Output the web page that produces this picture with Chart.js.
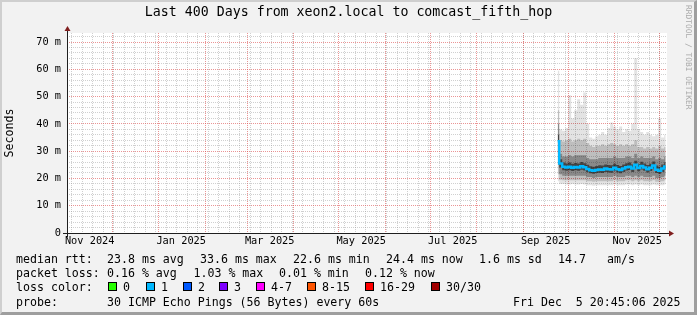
<!DOCTYPE html>
<html>
<head>
<meta charset="utf-8">
<title>Last 400 Days from xeon2.local to comcast_fifth_hop</title>
<script src="https://cdn.jsdelivr.net/npm/chart.js@4.4.1/dist/chart.umd.min.js"></script>
<style>
  html, body { margin: 0; padding: 0; background: #f2f2f2; }
  #wrap { position: relative; width: 697px; height: 315px; overflow: hidden; background: #f2f2f2; }
  #shade { position: absolute; left: 0; top: 0; width: 697px; height: 315px; box-sizing: border-box;
           border-top: 2px solid #cfcfcf; border-left: 2px solid #cfcfcf;
           border-right: 3px solid #9e9e9e; border-bottom: 3px solid #9e9e9e; }
  #chart { position: absolute; left: 0; top: 0; }
  .lg { position: absolute; font-family: 'DejaVu Sans Mono', monospace; font-size: 11.6px;
        line-height: 14px; white-space: pre; color: #000; }
  .box { position: absolute; width: 9px; height: 9px; box-sizing: border-box; border: 1px solid #000; }
  #mark { position: absolute; left: 683px; top: 5px; width: 10px; font-family: 'DejaVu Sans Mono', monospace;
          font-size: 7.9px; line-height: 10px; color: #aaaaaa; writing-mode: vertical-rl; white-space: pre; }
</style>
</head>
<body>
<div id="wrap">
  <div id="shade"></div>
  <canvas id="chart" width="697" height="315"></canvas>
  <div id="mark">RRDTOOL / TOBI OETIKER</div>
  <div id="legend"></div>
</div>
<script>
// ventana del grafico: 400 dias hasta Fri Dec 5 20:45:06 2025
const START = Date.UTC(2024, 9, 31, 20, 45, 6);
const END = START + 400 * 86400000;
const DAY = 86400000;

// muestras cada 2 dias, en ms
const sampleDates = [
  '2025-09-24', '2025-09-26', '2025-09-28', '2025-09-30',
  '2025-10-02', '2025-10-04', '2025-10-06', '2025-10-08', '2025-10-10', '2025-10-12', '2025-10-14', '2025-10-16',
  '2025-10-18', '2025-10-20', '2025-10-22', '2025-10-24', '2025-10-26', '2025-10-28', '2025-10-30',
  '2025-11-01', '2025-11-03', '2025-11-05', '2025-11-07', '2025-11-09', '2025-11-11', '2025-11-13', '2025-11-15',
  '2025-11-17', '2025-11-19', '2025-11-21', '2025-11-23', '2025-11-25', '2025-11-27', '2025-11-29',
  '2025-12-01', '2025-12-03', '2025-12-05'
];
const rttMedian = [33.6, 25.5, 24.3, 24.0, 24.3, 23.9, 24.2, 24.0, 24.5, 24.1, 23.5, 23.0, 22.8, 23.1, 23.3, 23.2,
  23.6, 23.4, 23.3, 23.9, 23.4, 23.1, 23.6, 24.1, 24.3, 23.6, 25.0, 23.8, 24.6, 24.0, 23.4, 23.9, 24.7, 23.2,
  22.8, 23.6, 24.4];
const rttMax = [59.5, 38.0, 37.5, 38.5, 50.5, 42.0, 45.0, 49.0, 47.0, 51.5, 40.0, 35.0, 34.5, 35.5, 36.0, 37.0,
  36.0, 38.5, 40.5, 39.0, 38.0, 39.0, 37.0, 38.0, 37.5, 40.0, 64.0, 38.0, 37.0, 36.0, 37.0, 36.0, 35.5, 36.0,
  42.0, 35.0, 36.0];
const rttP90 = [45.0, 34.0, 33.5, 34.0, 34.5, 33.5, 34.0, 34.5, 34.0, 34.5, 33.0, 32.0, 31.5, 32.0, 32.0, 32.5,
  32.0, 32.5, 33.0, 32.5, 32.0, 32.5, 32.0, 32.5, 32.0, 32.5, 34.0, 31.5, 31.5, 31.0, 31.5, 31.0, 31.5, 31.0,
  32.0, 31.0, 31.5];
const rttP75 = [40.0, 29.0, 28.0, 28.0, 28.5, 28.0, 28.5, 28.5, 28.5, 28.5, 27.5, 27.0, 27.0, 27.0, 27.5, 27.5,
  27.5, 27.5, 27.5, 28.0, 27.5, 27.5, 27.5, 28.0, 28.0, 27.5, 29.0, 27.5, 28.0, 27.5, 27.5, 27.5, 28.0, 27.0,
  27.5, 27.0, 28.0];
const rttP60 = [36.0, 27.0, 25.8, 25.5, 25.8, 25.4, 25.7, 25.5, 26.0, 25.6, 25.0, 24.5, 24.3, 24.6, 24.8, 24.7,
  25.1, 24.9, 24.8, 25.4, 24.9, 24.6, 25.1, 25.6, 25.8, 25.1, 26.5, 25.3, 26.1, 25.5, 24.9, 25.4, 26.2, 24.7,
  24.3, 25.1, 25.9];
const rttP40 = [29.0, 24.0, 23.0, 22.8, 23.0, 22.7, 23.0, 22.8, 23.2, 22.9, 22.3, 21.9, 21.7, 22.0, 22.1, 22.0,
  22.4, 22.2, 22.1, 22.7, 22.2, 21.9, 22.4, 22.9, 23.1, 22.4, 23.6, 22.6, 23.3, 22.8, 22.2, 22.7, 23.4, 22.0,
  21.7, 22.4, 23.2];
const rttP25 = [25.0, 21.5, 21.0, 21.0, 21.0, 21.0, 21.0, 21.0, 21.0, 21.0, 20.5, 20.5, 20.2, 20.5, 20.5, 20.5,
  20.5, 20.5, 20.5, 21.0, 20.5, 20.5, 20.5, 21.0, 21.0, 20.5, 21.0, 20.5, 21.0, 20.5, 20.5, 20.5, 21.0, 20.2,
  20.2, 20.5, 21.0];
const rttP10 = [21.5, 19.5, 19.3, 19.3, 19.3, 19.3, 19.3, 19.3, 19.3, 19.3, 19.0, 19.0, 18.8, 19.0, 19.0, 19.0,
  19.0, 19.0, 19.0, 19.3, 19.0, 19.0, 19.0, 19.3, 19.3, 19.0, 19.3, 19.0, 19.3, 19.0, 19.0, 19.0, 19.3, 18.8,
  18.8, 19.0, 19.3];
const rttMin = [19.0, 18.0, 18.0, 17.8, 17.8, 18.0, 17.8, 17.8, 18.0, 17.8, 17.5, 17.5, 17.3, 17.5, 17.5, 17.5,
  17.5, 17.5, 17.5, 17.8, 17.5, 17.5, 17.5, 17.8, 17.8, 17.5, 17.8, 17.5, 17.8, 17.5, 17.5, 17.5, 17.8, 17.5,
  17.5, 17.5, 17.8];

// etiquetas del eje x (meses impares) y eje y
const monthLabels = ['Nov 2024', 'Jan 2025', 'Mar 2025', 'May 2025', 'Jul 2025', 'Sep 2025', 'Nov 2025'];
const monthLabelStarts = ['2024-11-01', '2025-01-01', '2025-03-01', '2025-05-01', '2025-07-01', '2025-09-01', '2025-11-01'];
const yMax = 73.3;

// leyenda de perdida
const lossLabels = ['0', '1', '2', '3', '4-7', '8-15', '16-29', '30/30'];
const lossColors = ['#26ff00', '#00b8ff', '#0059ff', '#7e00ff', '#ff00ff', '#ff5500', '#ff0000', '#a10000'];

const GRID = 'rgba(143,143,143,0.42)';
const MGRID = 'rgba(222,79,79,0.6)';
const AXIS = '#1f1f1f';
const ARROW = '#801f1f';
const MONO = "'DejaVu Sans Mono', monospace";

function dayOf(iso) {
    const [y, m, d] = iso.split('-').map(Number);
    return (Date.UTC(y, m - 1, d) - START) / DAY;
}

const xs = sampleDates.map(dayOf);
const pts = arr => arr.map((v, i) => ({ x: xs[i], y: v }));

//ticks del eje x: semanas (lunes), meses y etiquetas a mitad de mes
function buildXTicks() {
    const ticks = [];
    for (let t = Date.UTC(2024, 10, 4); t < END; t += 7 * DAY) {
        ticks.push({ value: (t - START) / DAY, kind: 'week' });
    }
    for (let i = 0; i < 14; i++) {
        const t = Date.UTC(2024, 10 + i, 1);
        if (t < END) ticks.push({ value: (t - START) / DAY, kind: 'month' });
    }
    monthLabelStarts.forEach((s, i) => {
        ticks.push({ value: dayOf(s) + 15, kind: 'label', text: monthLabels[i] });
    });
    return ticks.sort((a, b) => a.value - b.value);
}

function buildYTicks() {
    const ticks = [];
    for (let v = 0; v <= 72; v += 2) ticks.push({ value: v });
    return ticks;
}

const band = (data, extra) => Object.assign({
    data: data,
    borderWidth: 0,
    pointRadius: 0,
    stepped: 'middle',
    fill: false
}, extra);

const datasets = [
    band(pts(rttMedian), { borderColor: '#00b8ff', borderWidth: 2.5, order: 0 }),
    band(pts(rttMin), { order: 4 }),
    band(pts(rttMax), { order: 4, fill: { target: 1 }, backgroundColor: 'rgba(0,0,0,0.11)' }),
    band(pts(rttP10), { order: 3 }),
    band(pts(rttP90), { order: 3, fill: { target: 3 }, backgroundColor: 'rgba(0,0,0,0.16)' }),
    band(pts(rttP25), { order: 2 }),
    band(pts(rttP75), { order: 2, fill: { target: 5 }, backgroundColor: 'rgba(0,0,0,0.28)' }),
    band(pts(rttP40), { order: 1 }),
    band(pts(rttP60), { order: 1, fill: { target: 7 }, backgroundColor: 'rgba(0,0,0,0.5)' })
];

const rrdChrome = {
    id: 'rrdChrome',
    beforeDraw(chart) {
        const { ctx, chartArea: a } = chart;
        ctx.save();
        ctx.fillStyle = '#ffffff';
        ctx.fillRect(a.left, a.top, a.right - a.left, a.bottom - a.top);
        ctx.restore();
    },
    afterDraw(chart) {
        const { ctx, chartArea: a } = chart;
        const x0 = a.left + 0.5, y0 = a.bottom + 0.5;
        ctx.save();
        ctx.strokeStyle = AXIS;
        ctx.lineWidth = 1;
        ctx.beginPath();
        ctx.moveTo(a.left - 4, y0);
        ctx.lineTo(a.right + 4, y0);
        ctx.moveTo(x0, a.bottom + 4);
        ctx.lineTo(x0, a.top - 4);
        ctx.stroke();
        ctx.fillStyle = ARROW;
        ctx.beginPath();
        ctx.moveTo(a.right + 2, y0 - 3);
        ctx.lineTo(a.right + 2, y0 + 3);
        ctx.lineTo(a.right + 7, y0);
        ctx.closePath();
        ctx.fill();
        ctx.beginPath();
        ctx.moveTo(x0 - 3, a.top - 2);
        ctx.lineTo(x0 + 3, a.top - 2);
        ctx.lineTo(x0, a.top - 7);
        ctx.closePath();
        ctx.fill();
        ctx.restore();
    }
};

new Chart(document.getElementById('chart'), {
    type: 'line',
    data: { datasets: datasets },
    options: {
        responsive: false,
        animation: false,
        devicePixelRatio: 1,
        layout: { padding: { left: 0, right: 0, top: 0, bottom: 62 } },
        plugins: {
            legend: { display: false },
            tooltip: { enabled: false },
            title: {
                display: true,
                text: 'Last 400 Days from xeon2.local to comcast_fifth_hop',
                color: '#000',
                font: { family: MONO, size: 13.28, weight: 'normal' },
                padding: { top: 5, bottom: 12.06 }
            }
        },
        scales: {
            x: {
                type: 'linear',
                min: 0,
                max: 400,
                afterBuildTicks: scale => { scale.ticks = buildXTicks(); },
                afterFit: scale => { scale.height = 20; },
                ticks: {
                    autoSkip: false,
                    maxRotation: 0,
                    minRotation: 0,
                    padding: 2,
                    color: '#000',
                    font: { family: MONO, size: 10.3 },
                    callback: (v, i, ticks) => ticks[i].text || ''
                },
                grid: {
                    drawTicks: false,
                    lineWidth: 1,
                    color: c => c.tick && c.tick.kind === 'month' ? MGRID
                        : (c.tick && c.tick.kind === 'week' ? GRID : 'rgba(0,0,0,0)')
                },
                border: { display: false, dash: [1, 1] }
            },
            y: {
                type: 'linear',
                min: 0,
                max: yMax,
                afterBuildTicks: scale => { scale.ticks = buildYTicks(); },
                afterFit: scale => { scale.width = 67; },
                ticks: {
                    autoSkip: false,
                    padding: 6,
                    color: '#000',
                    font: { family: MONO, size: 10.3 },
                    callback: v => v % 10 === 0 ? (v === 0 ? '0' : v + ' m') : ''
                },
                grid: {
                    drawTicks: false,
                    lineWidth: 1,
                    color: c => c.tick && c.tick.value % 10 === 0 ? MGRID : GRID
                },
                border: { display: false, dash: [1, 1] },
                title: {
                    display: true,
                    text: 'Seconds',
                    color: '#000',
                    font: { family: MONO, size: 11.6 },
                    padding: { top: 3, bottom: 0 }
                }
            },
            // margen derecho (deja el titulo centrado en todo el ancho)
            yRight: {
                type: 'linear',
                position: 'right',
                min: 0,
                max: yMax,
                afterBuildTicks: scale => { scale.ticks = [{ value: 0 }]; },
                afterFit: scale => { scale.width = 30; },
                ticks: { display: false },
                grid: { display: false, drawTicks: false },
                border: { display: false }
            }
        }
    },
    plugins: [rrdChrome]
});

//leyenda estilo rrdtool
const legendRows = [
    { top: 252.3, items: [[16, 'median rtt:'], [107, '23.8 ms avg'], [200, '33.6 ms max'], [293, '22.6 ms min'],
        [386, '24.4 ms now'], [479, '1.6 ms sd'], [558, '14.7'], [607, 'am/s']] },
    { top: 266.3, items: [[16, 'packet loss:'], [107, '0.16 % avg'], [193.5, '1.03 % max'], [279, '0.01 % min'],
        [365, '0.12 % now']] },
    { top: 280, items: [[16, 'loss color:']] },
    { top: 294.7, items: [[16, 'probe:'], [107, '30 ICMP Echo Pings (56 Bytes) every 60s'],
        [513, 'Fri Dec  5 20:45:06 2025']] }
];
const lossBoxX = [108, 146, 183, 219, 256, 307, 365, 431];

const legend = document.getElementById('legend');
legendRows.forEach(row => {
    row.items.forEach(([x, text]) => {
        const s = document.createElement('span');
        s.className = 'lg';
        s.style.left = x + 'px';
        s.style.top = row.top + 'px';
        s.textContent = text;
        legend.appendChild(s);
    });
});
lossLabels.forEach((label, i) => {
    const b = document.createElement('span');
    b.className = 'box';
    b.style.left = lossBoxX[i] + 'px';
    b.style.top = '282px';
    b.style.background = lossColors[i];
    legend.appendChild(b);
    const s = document.createElement('span');
    s.className = 'lg';
    s.style.left = (lossBoxX[i] + 15) + 'px';
    s.style.top = '280px';
    s.textContent = label;
    legend.appendChild(s);
});
</script>
</body>
</html>
